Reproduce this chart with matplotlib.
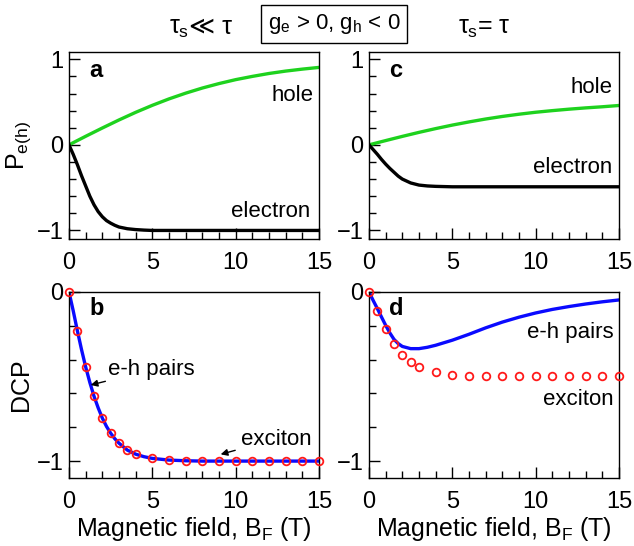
import matplotlib
matplotlib.use("Agg")
import matplotlib.pyplot as plt
from matplotlib.ticker import MultipleLocator

plt.rcParams['font.family'] = ['Liberation Sans', 'DejaVu Sans']
plt.rcParams['mathtext.fontset'] = 'custom'
plt.rcParams['mathtext.rm'] = 'Liberation Sans'
plt.rcParams['mathtext.it'] = 'Liberation Sans'
plt.rcParams['mathtext.bf'] = 'Liberation Sans:bold'

# ---- data ----
# panel a (tau_s << tau)
b_hole_a = [0, 1, 2, 3, 4, 5, 6, 7, 8, 9, 10, 11, 12, 13, 14, 15]
p_hole_a = [0, 0.10, 0.197, 0.291, 0.38, 0.462, 0.537, 0.604, 0.664, 0.716,
            0.762, 0.80, 0.834, 0.862, 0.885, 0.905]
b_el_a = [0, 0.25, 0.5, 0.75, 1, 1.25, 1.5, 1.75, 2, 2.25, 2.5, 2.75, 3,
          3.5, 4, 4.5, 5, 6, 8, 10, 15]
p_el_a = [0, -0.11, -0.23, -0.36, -0.48, -0.60, -0.70, -0.78, -0.84, -0.885,
          -0.915, -0.94, -0.96, -0.98, -0.99, -0.996, -1.0, -1.0, -1.0, -1.0, -1.0]

# panel c (tau_s = tau)
b_hole_c = b_hole_a
p_hole_c = [0, 0.05, 0.099, 0.146, 0.19, 0.231, 0.268, 0.302, 0.332, 0.358,
            0.381, 0.40, 0.417, 0.432, 0.445, 0.46]
b_el_c = [0, 0.25, 0.5, 0.75, 1, 1.25, 1.5, 1.75, 2, 2.5, 3, 3.5, 4, 5, 6, 8, 10, 15]
p_el_c = [0, -0.055, -0.11, -0.17, -0.225, -0.275, -0.32, -0.365, -0.40, -0.445,
          -0.47, -0.48, -0.485, -0.49, -0.49, -0.49, -0.49, -0.49]

# panel b: DCP, e-h pairs (line) and exciton (circles)
b_pairs_b = [0, 0.25, 0.5, 0.75, 1, 1.25, 1.5, 1.75, 2, 2.25, 2.5, 2.75, 3,
             3.5, 4, 4.5, 5, 6, 7, 8, 10, 15]
dcp_pairs_b = [0, -0.11, -0.228, -0.34, -0.443, -0.535, -0.616, -0.685, -0.746,
               -0.795, -0.835, -0.868, -0.894, -0.935, -0.959, -0.974, -0.984,
               -0.994, -0.998, -1.0, -1.0, -1.0]
b_exc_b = [0, 0.5, 1, 1.5, 2, 2.5, 3, 3.5, 4, 5, 6, 7, 8, 9, 10, 11, 12, 13, 14, 15]
dcp_exc_b = [0, -0.228, -0.443, -0.616, -0.746, -0.835, -0.894, -0.935, -0.959,
             -0.984, -0.994, -0.998, -1.0, -1.0, -1.0, -1.0, -1.0, -1.0, -1.0, -1.0]

# panel d
b_pairs_d = [0, 0.25, 0.5, 0.75, 1, 1.25, 1.5, 1.75, 2, 2.5, 3, 3.5, 4, 4.5, 5,
             6, 7, 8, 9, 10, 11, 12, 13, 14, 15]
dcp_pairs_d = [0, -0.05, -0.098, -0.148, -0.197, -0.242, -0.28, -0.305, -0.322,
               -0.335, -0.335, -0.327, -0.315, -0.30, -0.285, -0.25, -0.212,
               -0.178, -0.149, -0.124, -0.103, -0.086, -0.071, -0.058, -0.047]
b_exc_d = [0, 0.5, 1, 1.5, 2, 2.5, 3, 4, 5, 6, 7, 8, 9, 10, 11, 12, 13, 14, 15]
dcp_exc_d = [0, -0.11, -0.218, -0.305, -0.37, -0.413, -0.443, -0.476, -0.488,
             -0.494, -0.495, -0.495, -0.495, -0.495, -0.495, -0.495, -0.495,
             -0.495, -0.495]

GREEN = '#1ed21e'
BLUE = '#0a0aff'
RED = '#ff1a1a'
TICK_FS = 17
LABEL_FS = 18
NOTE_FS = 16

fig = plt.figure(figsize=(6.34, 5.46), dpi=100)
W, H = 634, 546


def add_ax(l, t, w, h):
    return fig.add_axes([l / W, 1 - (t + h) / H, w / W, h / H])


ax_a = add_ax(69, 52, 250, 187)
ax_c = add_ax(369, 52, 250, 187)
ax_b = add_ax(69, 292, 250, 186)
ax_d = add_ax(369, 292, 250, 186)

for ax in (ax_a, ax_b, ax_c, ax_d):
    ax.set_xlim(0, 15)
    ax.xaxis.set_major_locator(MultipleLocator(5))
    ax.xaxis.set_minor_locator(MultipleLocator(1))
    ax.yaxis.set_major_locator(MultipleLocator(1))
    ax.yaxis.set_minor_locator(MultipleLocator(0.2))
    ax.tick_params(which='both', direction='in', top=False, right=False,
                   labelsize=TICK_FS, width=1)
    ax.tick_params(axis='x', pad=9.5)
    ax.tick_params(axis='y', pad=4)
    ax.tick_params(which='major', length=8)
    ax.tick_params(which='minor', length=5)
    for s in ax.spines.values():
        s.set_linewidth(1)

for ax in (ax_a, ax_c):
    ax.set_ylim(-1.1, 1.085)
    ax.set_yticks([-1, 0, 1])
    ax.set_yticklabels(['\u22121', '0', '1'])
for ax in (ax_b, ax_d):
    ax.set_ylim(-1.1, 0)
    ax.set_yticks([-1, 0])
    ax.set_yticklabels(['\u22121', '0'])
    ax.set_xlabel('Magnetic field, B$_\\mathregular{F}$ (T)', fontsize=LABEL_FS,
                  labelpad=1)

# panel a
ax_a.plot(b_hole_a, p_hole_a, color=GREEN, lw=2.4)
ax_a.plot(b_el_a, p_el_a, color='black', lw=2.4)
ax_a.text(14.65, 0.58, 'hole', fontsize=NOTE_FS, ha='right', va='center')
ax_a.text(14.5, -0.78, 'electron', fontsize=NOTE_FS, ha='right', va='center')
ax_a.set_ylabel('P$_\\mathregular{e(h)}$', fontsize=LABEL_FS)
ax_a.yaxis.set_label_coords(-0.145, 0.5)

# panel c
ax_c.plot(b_hole_c, p_hole_c, color=GREEN, lw=2.4)
ax_c.plot(b_el_c, p_el_c, color='black', lw=2.4)
ax_c.text(14.6, 0.67, 'hole', fontsize=NOTE_FS, ha='right', va='center')
ax_c.text(14.6, -0.27, 'electron', fontsize=NOTE_FS, ha='right', va='center')

# panel b
ax_b.plot(b_pairs_b, dcp_pairs_b, color=BLUE, lw=2.4, zorder=2)
ax_b.plot(b_exc_b, dcp_exc_b, ls='none', marker='o', ms=5.5, mfc='none',
          mec=RED, mew=1.3, zorder=3, clip_on=False)
ax_b.annotate('e-h pairs', xy=(1.3, -0.55), xytext=(2.35, -0.46),
              fontsize=NOTE_FS, ha='left', va='center',
              arrowprops=dict(arrowstyle='-|>', color='black', lw=1,
                              mutation_scale=10, shrinkA=0, shrinkB=0))
ax_b.annotate('exciton', xy=(9.1, -0.96), xytext=(10.3, -0.87),
              fontsize=NOTE_FS, ha='left', va='center',
              arrowprops=dict(arrowstyle='-|>', color='black', lw=1,
                              mutation_scale=10, shrinkA=2, shrinkB=0))
ax_b.set_ylabel('DCP', fontsize=LABEL_FS)
ax_b.yaxis.set_label_coords(-0.145, 0.5)

# panel d
ax_d.plot(b_pairs_d, dcp_pairs_d, color=BLUE, lw=2.4, zorder=2)
ax_d.plot(b_exc_d, dcp_exc_d, ls='none', marker='o', ms=5.5, mfc='none',
          mec=RED, mew=1.3, zorder=3, clip_on=False)
ax_d.text(14.7, -0.24, 'e-h pairs', fontsize=NOTE_FS, ha='right', va='center')
ax_d.text(14.7, -0.635, 'exciton', fontsize=NOTE_FS, ha='right', va='center')

# panel letters
for ax, lab, yy in ((ax_a, 'a', 0.9), (ax_c, 'c', 0.9), (ax_b, 'b', 0.91), (ax_d, 'd', 0.91)):
    ax.text(0.08, yy, lab, transform=ax.transAxes, fontsize=17,
            fontweight='bold', ha='left', va='center')

# header texts
base_y = 1 - 34 / H
fig.text(189 / W, base_y, '$\\tau_\\mathregular{s}$', fontsize=LABEL_FS,
         ha='right', va='baseline')
fig.text(189 / W, base_y, '\u226a \u03c4', fontsize=LABEL_FS,
         ha='left', va='baseline', family=['Liberation Sans', 'DejaVu Sans'])
fig.text(484 / W, base_y, '$\\tau_\\mathregular{s}$= \u03c4',
         fontsize=LABEL_FS, ha='center', va='baseline')
fig.text(334 / W, 1 - 24 / H,
         'g$_\\mathregular{e}$ > 0, g$_\\mathregular{h}$ < 0',
         fontsize=16, ha='center', va='center',
         bbox=dict(boxstyle='square,pad=0.3', fc='white', ec='black', lw=1))

fig.savefig('out.png', dpi=100)
